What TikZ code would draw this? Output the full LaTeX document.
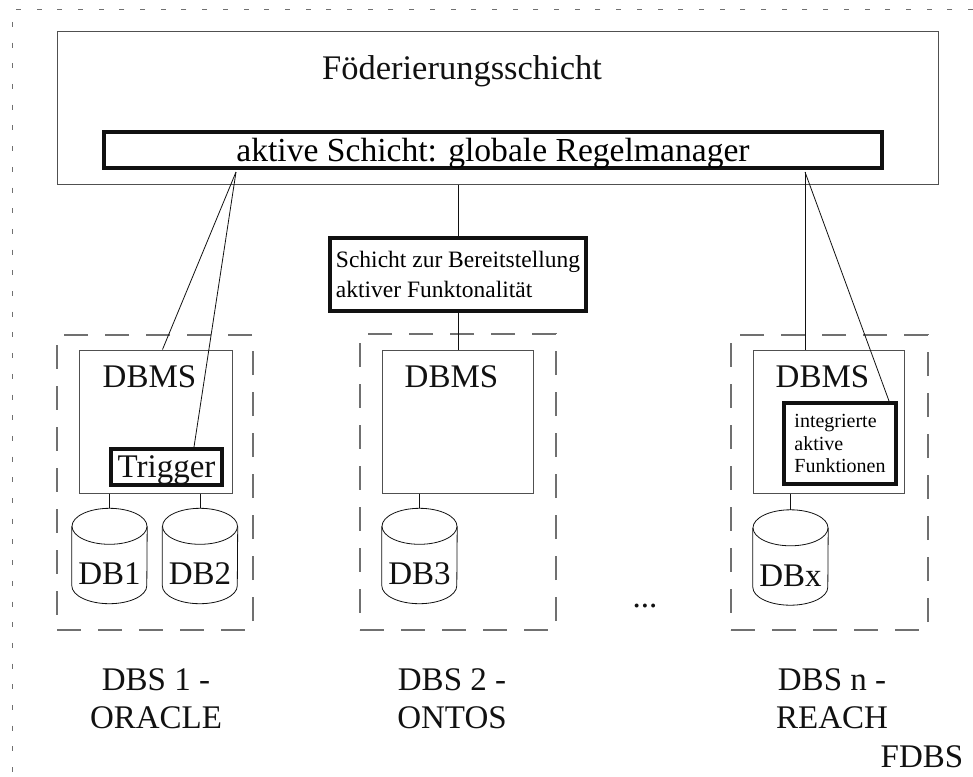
\documentclass[tikz,border=0pt]{standalone}
\usepackage{fontspec}
\setmainfont{Liberation Serif}
\usepackage{xcolor}
\usetikzlibrary{positioning,calc}
\definecolor{ink}{HTML}{111111}
\definecolor{rim}{HTML}{505050}
\definecolor{hatch}{HTML}{707070}
\newcommand{\dbdrum}[1]{%
  \draw[ink,line width=0.8pt] ($(#1.north)+(0,18)$) ellipse [x radius=37.5,y radius=18];
  \draw[ink,line width=0.8pt] ($(#1.north west)+(0,18)$) -- ($(#1.south west)+(0,-18)$)
    arc [start angle=180,end angle=0,x radius=37.5,y radius=18] -- ($(#1.north east)+(0,18)$);}

\begin{document}
\begin{tikzpicture}[x=1pt,y=-1pt,
  bigtext/.style={font=\fontsize{33}{38}\selectfont,text=ink,inner sep=0pt},
  thinbox/.style={draw=rim,line width=1pt,inner sep=0pt},
  boldbox/.style={draw=ink,line width=4pt,inner sep=0pt},
  dbstore/.style={bigtext,minimum width=75pt,minimum height=95pt,text height=57pt,text depth=0pt},
  dbsgroup/.style={draw=hatch,line width=1.2pt,dash pattern=on 24pt off 17pt,inner sep=0pt},
  wire/.style={draw=ink,line width=0.8pt}]
\useasboundingbox (0,0) rectangle (973,776);
\draw[hatch,line width=1pt,dash pattern=on 5pt off 15.7pt] (973,10) -| (12,776);

\node[thinbox,minimum width=881pt,minimum height=152pt] (fed) at (497.5,108) {};
\node[bigtext,anchor=base,font=\fontsize{34.5}{40}\selectfont] (fedname) at (462,79) {Föderierungsschicht};
\node[boldbox,minimum width=778pt,minimum height=36pt,font=\fontsize{33.6}{38}\selectfont,text depth=0pt]
  (rules) at (493,150) {aktive Schicht: globale Regelmanager};
\node[boldbox,minimum width=256pt,minimum height=73pt,align=left,font=\fontsize{23.5}{29.3}\selectfont]
  (fkt) at (458,274.5) {Schicht zur Bereitstellung\\aktiver Funktonalität};

% the three DBS
\node[dbsgroup,minimum width=196pt,minimum height=295pt] (grp1) at (155,482.5) {};
\node[dbsgroup,minimum width=196pt,minimum height=296pt] (grp2) at (458,482) {};
\node[dbsgroup,minimum width=197pt,minimum height=295pt] (grp3) at (829.5,482.5) {};

\node[thinbox,minimum width=153pt,minimum height=143pt] (dbms1) at (155.5,421.5) {};
\node[thinbox,minimum width=151pt,minimum height=143pt] (dbms2) at (457.5,421.5) {};
\node[thinbox,minimum width=151pt,minimum height=143pt] (dbms3) at (828.5,421.5) {};
\node[bigtext,anchor=north] (dbms1name) at ($(dbms1.north)+(-6,16)$) {DBMS};
\node[bigtext,anchor=north] (dbms2name) at ($(dbms2.north)+(-6,16)$) {DBMS};
\node[bigtext,anchor=north] (dbms3name) at ($(dbms3.north)+(-6,16)$) {DBMS};

\node[boldbox,minimum width=111pt,minimum height=36pt,bigtext,text depth=0pt] (trig) at (166.5,467) {Trigger};
\node[boldbox,minimum width=112pt,minimum height=81pt,align=left,font=\fontsize{20}{22.7}\selectfont]
  (integ) at (840,443.5) {integrierte\\aktive\\Funktionen};

\node[dbstore] (db1) at (109.5,556) {DB1};
\node[dbstore] (db2) at (200,556) {DB2};
\node[dbstore] (db3) at (419.5,556) {DB3};
\node[dbstore] (dbx) at (790.5,557.5) {DBx};
\dbdrum{db1}
\dbdrum{db2}
\dbdrum{db3}
\dbdrum{dbx}

\node[bigtext,align=center,anchor=north] (lbl1) at (156,668) {DBS 1 -\\ORACLE};
\node[bigtext,align=center,anchor=north] (lbl2) at (452,668) {DBS 2 -\\ONTOS};
\node[bigtext,align=center,anchor=north] (lbl3) at (832,668) {DBS n -\\REACH};
\node[bigtext,anchor=base] (more) at (645,607) {...};
\node[bigtext,anchor=base] (fdbs) at (922,767) {FDBS};

\coordinate (rl) at ($(rules.south west)+(134,2)$);
\coordinate (rr) at ($(rules.south west)+(703,2)$);
\draw[wire] (rl) -- ($(dbms1.north west)+(84,0)$);
\draw[wire] (rl) -- ($(trig.north east)+(-30,0)$);
\draw[wire] (rr) -- (rr |- dbms3.north);
\draw[wire] (rr) -- ($(integ.north east)+(-9,0)$);
\draw[wire] (fed.south -| fkt.north) -- (fkt.north);
\draw[wire] (fkt.south) -- (fkt.south |- dbms2.north);
\draw[wire] (dbms1.south -| db1.north) -- (db1.north);
\draw[wire] (dbms1.south -| db2.north) -- (db2.north);
\draw[wire] (dbms2.south -| db3.north) -- (db3.north);
\draw[wire] (dbms3.south -| dbx.north) -- (dbx.north);
\end{tikzpicture}
\end{document}
